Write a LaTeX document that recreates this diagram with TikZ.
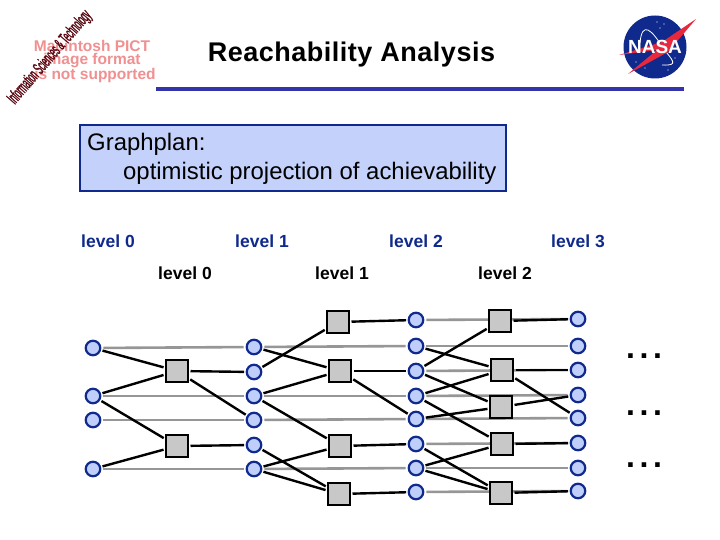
\documentclass[tikz,border=0pt]{standalone}
\usepackage{fontspec}
\setmainfont{Liberation Sans}
\newfontfamily\istfont[FakeBold=2.5]{Liberation Sans}
\newfontfamily\titelfont[LetterSpace=1.85]{Liberation Sans}
\definecolor{tiefblau}{HTML}{0F2A8C}
\definecolor{balken}{HTML}{3333AA}
\definecolor{kasten}{HTML}{C4D2FB}
\definecolor{kreis}{HTML}{BFCFFA}
\definecolor{quad}{HTML}{C8C8C8}
\definecolor{grauline}{HTML}{969696}
\definecolor{pict}{HTML}{F09090}
\definecolor{nasarot}{HTML}{E8283C}
\definecolor{istrot}{HTML}{5A0A14}
\tikzset{
  fact/.style={circle,draw=tiefblau,fill=kreis,line width=2.2pt,minimum size=14.5pt,inner sep=0pt},
  act/.style={rectangle,draw=black,fill=quad,line width=2pt,minimum size=22pt,inner sep=0pt},
  noop/.style={grauline,line width=2.6pt,shorten <=2pt,shorten >=2pt},
  bind/.style={black,line width=2.4pt,shorten <=1.5pt,shorten >=1.5pt},
  lev/.style={font=\fontsize{17.5}{20}\selectfont\bfseries,inner sep=0pt},
  boxtxt/.style={font=\fontsize{23.9}{26}\selectfont,inner sep=0pt,anchor=west},
  pictxt/.style={pict,font=\fontsize{15.5}{16}\selectfont\bfseries,inner sep=0pt},
  punkte/.style={font=\fontsize{32}{32}\selectfont\bfseries,inner sep=0pt,anchor=base},
}
\begin{document}
\begin{tikzpicture}[x=1pt,y=-1pt]
  \useasboundingbox (0,0) rectangle (720,540);
  \fill[white] (0,0) rectangle (720,540);
  % header
  \node[pictxt] (pict1) at (92,46) {Macintosh PICT};
  \node[pictxt] (pict2) at (92,61) {image format};
  \node[pictxt] (pict3) at (95,75) {is not supported};
  \node[rotate=49,xscale=0.58,yscale=1.35,inner sep=0pt,text=istrot,font=\fontsize{13}{14}\istfont\selectfont] (ist) at (50,57.5) {Information Sciences \& Technology};
  \node[font=\fontsize{27}{30}\titelfont\bfseries,inner sep=0pt] (titel) at (351.5,55) {Reachability Analysis};
  \fill[balken] (156,87.5) rectangle (684,91.5);
  % logo
  \fill[tiefblau] (655,47) circle (31.5);
  \draw[white,line width=0.8pt] (640,43) .. controls (642,20) and (652,30) .. (663,48) .. controls (672,60) and (680,66) .. (662,65);
  \foreach \x/\y in {657/22,664/24,660/28,636/62,645/68,675/58,680/52,668/70}
    \fill[white] (\x,\y) circle (0.7);
  \fill[nasarot] (696,19) -- (668,52) -- (628,74) -- (657,50) -- (619,55) -- (662,42) -- cycle;
  \node[white,font=\fontsize{19}{19}\selectfont\bfseries,inner sep=0pt] (nasa) at (655,47) {NASA};
  % box
  \node[draw=tiefblau,fill=kasten,line width=1.6pt,minimum width=426pt,minimum height=66pt,inner sep=0pt] (box) at (293,158) {};
  \node[boxtxt] (box1) at (87,144.5) {Graphplan:};
  \node[boxtxt] (box2) at (123,173.5) {optimistic projection of achievability};
  % levels
  \node[lev,tiefblau] (l0) at (108,241) {level 0};
  \node[lev,tiefblau] (l1) at (262,241) {level 1};
  \node[lev,tiefblau] (l2) at (416,241) {level 2};
  \node[lev,tiefblau] (l3) at (578,241) {level 3};
  \node[lev] (m0) at (185,273) {level 0};
  \node[lev] (m1) at (342,273) {level 1};
  \node[lev] (m2) at (505,273) {level 2};
  % fact columns
  \foreach \n/\x/\y in {a1/93/348,a3/93/396,a4/93/420,a6/93/469,
    b1/254/347,b2/254/372,b3/254/396,b4/254/420,b5/254/445,b6/254/469,
    c0/416/320,c1/416/346,c2/416/371,c3/416/396,c4/416/419,c5/416/444,c6/416/468,c7/416/492,
    d0/578/319,d1/578/346,d2/578/370,d3/578/395,d4/578/418,d5/578/443,d6/578/468,d7/578/491}
    \node[fact] (\n) at (\x,\y) {};
  % gray lines stay behind the actions
  \foreach \s/\t in {a1/b1,a3/b3,a4/b4,a6/b6,b1/c1,b3/c3,b4/c4,b6/c6,
    c0/d0,c1/d1,c2/d2,c3/d3,c4/d4,c5/d5,c6/d6,c7/d7}
    \draw[noop] (\s) -- (\t);
  % action columns
  \foreach \n/\x/\y in {p1/177/371,p2/177/446,
    q1/338/322,q2/340/371,q3/340/446,q4/339/494,
    r1/500/321,r2/502/370,r3/501/407,r4/502/444,r5/501/493}
    \node[act] (\n) at (\x,\y) {};
  % preconditions and effects
  \foreach \s/\t in {a1/p1,a3/p1,a3/p2,a6/p2,p1/b2,p1/b4,p2/b5,
    b2/q1,b1/q2,b3/q2,b3/q3,b6/q3,b5/q4,b6/q4,q1/c0,q2/c2,q2/c4,q3/c5,q4/c7,
    c2/r1,c1/r2,c3/r2,c2/r3,c4/r3,c3/r4,c6/r4,c5/r5,c6/r5,r1/d0,r2/d2,r2/d4,r3/d3,r4/d5,r5/d7}
    \draw[bind] (\s) -- (\t);
  % dots
  \node[punkte] (dots1) at (644,358) {.\hspace{4.6pt}.\hspace{4.6pt}.};
  \node[punkte] (dots2) at (644,415) {.\hspace{4.6pt}.\hspace{4.6pt}.};
  \node[punkte] (dots3) at (644,467) {.\hspace{4.6pt}.\hspace{4.6pt}.};
\end{tikzpicture}
\end{document}
